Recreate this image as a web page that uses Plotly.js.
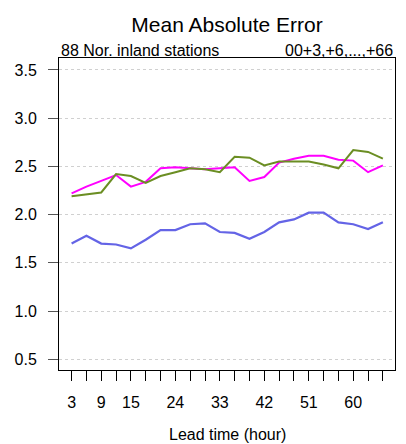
<!DOCTYPE html>
<html>
<head>
<meta charset="utf-8">
<script src="https://cdn.plot.ly/plotly-3.0.1.min.js"></script>
<style>html,body{margin:0;padding:0;background:#fff;}#chart{width:406px;height:444px;}</style>
</head>
<body>
<div id="chart"></div>
<script>
const leadTimes = [3,6,9,12,15,18,21,24,27,30,33,36,39,42,45,48,51,54,57,60,63,66];
const tickLabels = ["3","","9","","15","","","24","","","33","","","42","","","51","","","60","",""];
const seriesMagenta = [2.22,2.29,2.35,2.41,2.29,2.34,2.48,2.49,2.48,2.47,2.48,2.49,2.35,2.39,2.54,2.58,2.61,2.61,2.57,2.56,2.44,2.51];
const seriesGreen   = [2.19,2.21,2.23,2.42,2.40,2.33,2.40,2.44,2.48,2.47,2.44,2.60,2.59,2.51,2.55,2.55,2.55,2.52,2.48,2.67,2.65,2.58];
const seriesBlue    = [1.70,1.78,1.70,1.69,1.65,1.74,1.84,1.84,1.90,1.91,1.82,1.81,1.75,1.82,1.92,1.95,2.02,2.02,1.92,1.90,1.85,1.92];

const fontFam = "Liberation Sans, Arial, Helvetica, sans-serif";
const traces = [
  {x: leadTimes, y: seriesMagenta, type: 'scatter', mode: 'lines', line: {color: '#FF00FF', width: 2}, hoverinfo: 'skip'},
  {x: leadTimes, y: seriesGreen, type: 'scatter', mode: 'lines', line: {color: '#6B8E23', width: 2}, hoverinfo: 'skip'},
  {x: leadTimes, y: seriesBlue, type: 'scatter', mode: 'lines', line: {color: '#6464E6', width: 2.2}, hoverinfo: 'skip'}
];

const layout = {
  width: 406, height: 444,
  margin: {l: 59, r: 11, t: 58, b: 74, pad: 0},
  paper_bgcolor: '#fff', plot_bgcolor: '#fff',
  showlegend: false,
  font: {family: fontFam, size: 16, color: '#000'},
  title: {text: 'Mean Absolute Error', font: {family: fontFam, size: 21, color: '#000'},
          x: 0.5, xref: 'paper', xanchor: 'center', y: 1 - 25/444, yref: 'container', yanchor: 'middle'},
  xaxis: {
    range: [0.45, 68.45], tickmode: 'array', tickvals: leadTimes, ticktext: tickLabels,
    ticks: 'outside', ticklen: 10, tickwidth: 1, tickcolor: '#000',
    showgrid: false, zeroline: false,
    showline: true, linecolor: '#000', linewidth: 1, mirror: true,
    tickfont: {family: fontFam, size: 16, color: '#000'}, ticklabelstandoff: 8
  },
  yaxis: {
    range: [0.389, 3.624], tickmode: 'array', tickvals: [0.5,1,1.5,2,2.5,3,3.5],
    ticktext: ['0.5','1.0','1.5','2.0','2.5','3.0','3.5'],
    ticks: 'outside', ticklen: 10, tickwidth: 1, tickcolor: '#555',
    showgrid: true, gridcolor: '#d0d0d0', griddash: 'dot', gridwidth: 1,
    zeroline: false, showline: true, linecolor: '#000', linewidth: 1, mirror: true,
    tickfont: {family: fontFam, size: 16, color: '#000'}, ticklabelstandoff: 8
  },
  annotations: [
    {text: '88 Nor. inland stations', xref: 'paper', yref: 'paper', x: 0, y: 1 + 8/312,
     xanchor: 'left', yanchor: 'middle', showarrow: false, font: {family: fontFam, size: 16, color: '#000'}},
    {text: '00+3,+6,...,+66', xref: 'paper', yref: 'paper', x: 1, y: 1 + 8/312,
     xanchor: 'right', yanchor: 'middle', showarrow: false, font: {family: fontFam, size: 16, color: '#000'}},
    {text: 'Lead time (hour)', xref: 'paper', yref: 'paper', x: 0.5, y: -64/312,
     xanchor: 'center', yanchor: 'middle', showarrow: false, font: {family: fontFam, size: 16, color: '#000'}}
  ]
};

Plotly.newPlot('chart', traces, layout, {displayModeBar: false, staticPlot: true});
</script>
</body>
</html>
